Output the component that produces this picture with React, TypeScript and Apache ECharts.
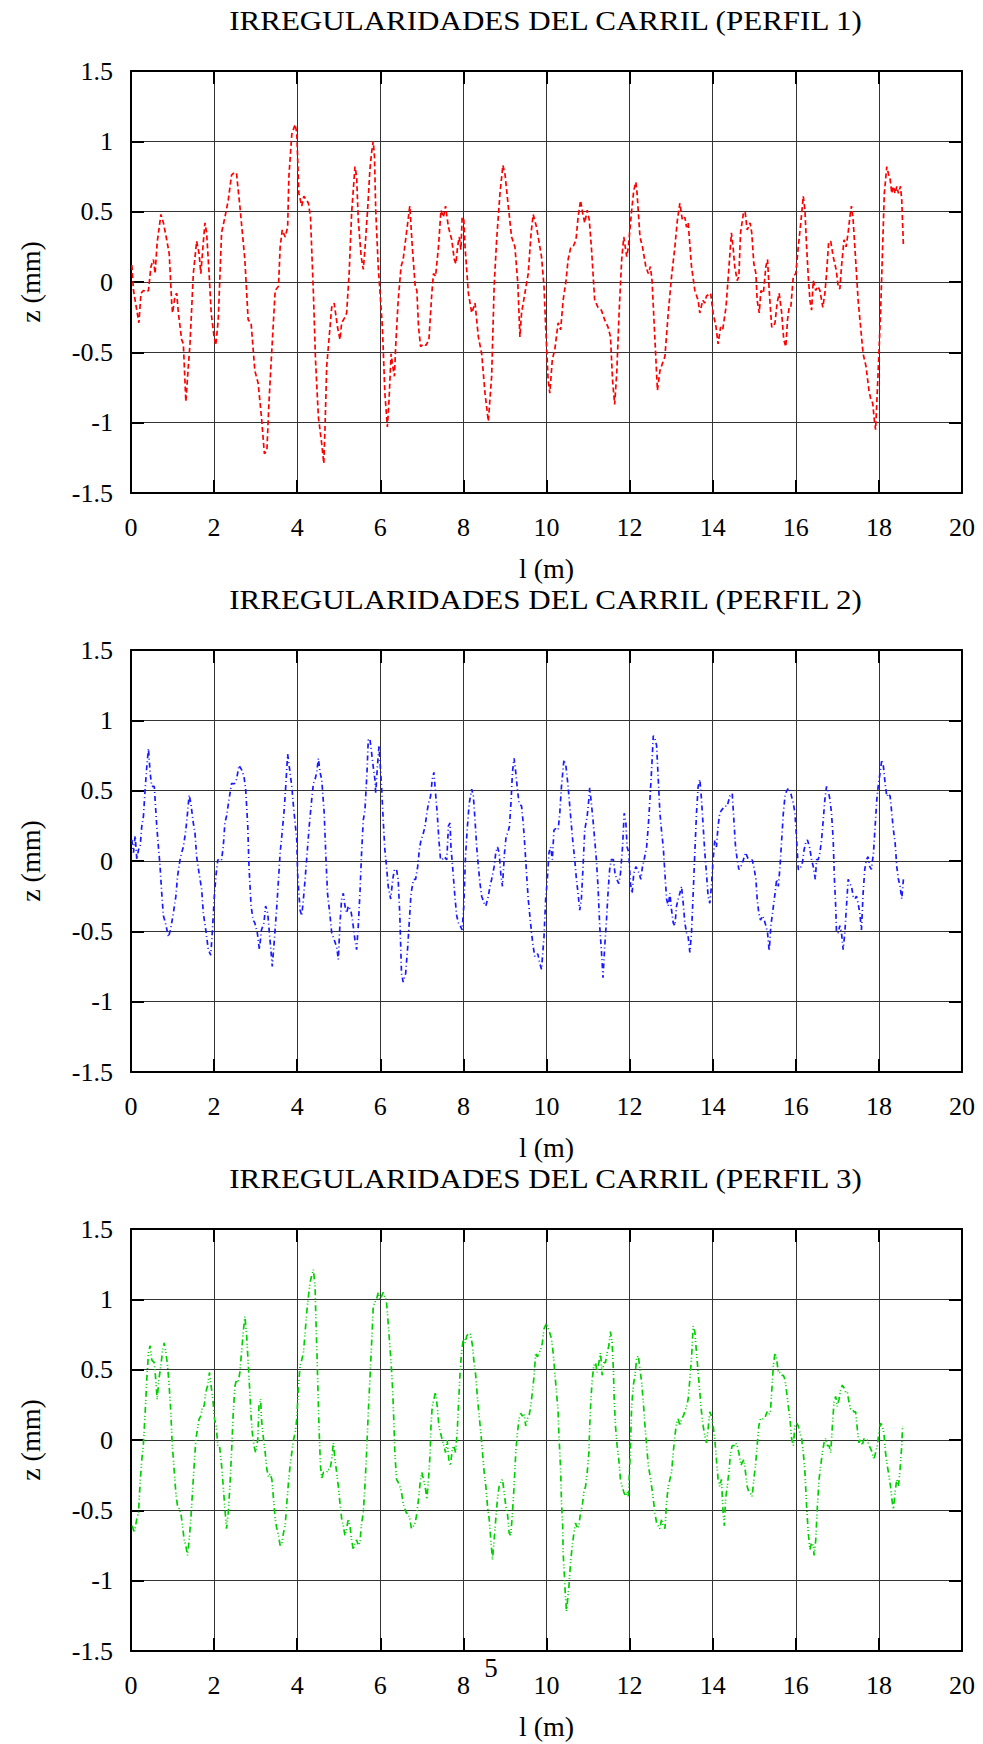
import React, { useEffect, useRef } from "react";
import * as echarts from "echarts";

const titles: string[] = [
  "IRREGULARIDADES DEL CARRIL (PERFIL 1)",
  "IRREGULARIDADES DEL CARRIL (PERFIL 2)",
  "IRREGULARIDADES DEL CARRIL (PERFIL 3)",
];
const xAxisName = "l (m)";
const yAxisName = "z (mm)";
const pageNumber = "5";
const xMin = 0;
const xMax = 20;
const xStep = 2;
const yMin = -1.5;
const yMax = 1.5;
const yStep = 0.5;

const perfil1: [number, number][] = [
  [0.02,0.12],[0.06,-0.06],[0.19,-0.29],[0.24,-0.08],[0.30,-0.06],[0.38,-0.07],[0.42,-0.06],[0.48,0.11],[0.54,0.16],[0.58,0.06],[0.63,0.28],[0.72,0.48],[0.78,0.42],[0.86,0.30],[0.92,0.20],[0.98,-0.15],[1.00,-0.22],[1.06,-0.10],[1.10,-0.08],[1.14,-0.22],[1.22,-0.41],[1.26,-0.44],[1.32,-0.85],[1.38,-0.60],[1.42,-0.44],[1.50,0.06],[1.58,0.29],[1.64,0.20],[1.68,0.06],[1.74,0.28],[1.78,0.42],[1.82,0.35],[1.88,0.06],[1.93,-0.22],[1.97,-0.32],[2.00,-0.39],[2.04,-0.45],[2.10,-0.27],[2.18,0.35],[2.26,0.46],[2.34,0.58],[2.42,0.76],[2.49,0.78],[2.54,0.77],[2.62,0.54],[2.74,0.16],[2.82,-0.27],[2.89,-0.29],[2.98,-0.63],[3.06,-0.72],[3.14,-0.96],[3.21,-1.22],[3.27,-1.20],[3.32,-0.86],[3.39,-0.48],[3.47,-0.06],[3.55,-0.03],[3.59,0.25],[3.64,0.37],[3.71,0.32],[3.77,0.39],[3.80,0.75],[3.87,1.05],[3.95,1.12],[3.99,1.06],[4.04,0.63],[4.11,0.54],[4.16,0.61],[4.23,0.58],[4.27,0.56],[4.32,0.46],[4.39,-0.08],[4.44,-0.55],[4.51,-0.96],[4.59,-1.15],[4.64,-1.29],[4.67,-1.03],[4.71,-0.60],[4.77,-0.39],[4.83,-0.18],[4.89,-0.15],[4.97,-0.32],[5.03,-0.41],[5.07,-0.29],[5.15,-0.25],[5.19,-0.22],[5.25,0.06],[5.31,0.49],[5.39,0.82],[5.43,0.75],[5.47,0.44],[5.54,0.18],[5.59,0.09],[5.63,0.23],[5.70,0.54],[5.75,0.80],[5.79,0.92],[5.83,1.00],[5.86,0.89],[5.89,0.51],[5.95,0.11],[5.99,-0.06],[6.05,-0.32],[6.11,-0.79],[6.17,-1.03],[6.21,-0.84],[6.26,-0.51],[6.30,-0.60],[6.34,-0.67],[6.37,-0.46],[6.43,-0.13],[6.50,0.11],[6.55,0.16],[6.63,0.35],[6.71,0.54],[6.77,0.25],[6.84,-0.03],[6.88,-0.06],[6.92,-0.32],[6.97,-0.46],[7.04,-0.44],[7.10,-0.45],[7.17,-0.41],[7.24,-0.08],[7.28,0.06],[7.33,0.04],[7.40,0.25],[7.46,0.51],[7.52,0.46],[7.57,0.54],[7.64,0.39],[7.72,0.30],[7.78,0.16],[7.82,0.13],[7.86,0.25],[7.90,0.32],[7.94,0.23],[7.97,0.46],[8.01,0.44],[8.04,0.25],[8.12,-0.08],[8.20,-0.22],[8.28,-0.15],[8.36,-0.39],[8.44,-0.51],[8.52,-0.79],[8.60,-0.99],[8.68,-0.67],[8.74,-0.03],[8.80,0.30],[8.88,0.63],[8.95,0.83],[9.00,0.77],[9.08,0.54],[9.16,0.32],[9.24,0.25],[9.31,-0.01],[9.36,-0.39],[9.40,-0.22],[9.48,-0.08],[9.56,0.06],[9.63,0.35],[9.68,0.48],[9.76,0.39],[9.88,0.18],[9.94,-0.03],[9.98,-0.32],[10.04,-0.70],[10.08,-0.79],[10.14,-0.55],[10.20,-0.48],[10.28,-0.29],[10.34,-0.34],[10.40,-0.13],[10.47,0.01],[10.52,0.16],[10.58,0.24],[10.64,0.25],[10.71,0.30],[10.76,0.46],[10.82,0.58],[10.87,0.49],[10.92,0.42],[10.98,0.51],[11.03,0.44],[11.08,0.25],[11.16,-0.13],[11.24,-0.18],[11.32,-0.20],[11.40,-0.27],[11.48,-0.32],[11.54,-0.39],[11.59,-0.70],[11.64,-0.87],[11.69,-0.65],[11.75,-0.20],[11.81,0.16],[11.86,0.32],[11.93,0.18],[11.97,0.25],[12.05,0.51],[12.10,0.65],[12.15,0.71],[12.18,0.63],[12.25,0.32],[12.31,0.25],[12.39,0.11],[12.45,0.06],[12.50,0.11],[12.54,0.01],[12.61,-0.41],[12.67,-0.77],[12.73,-0.63],[12.79,-0.58],[12.85,-0.53],[12.93,-0.22],[13.01,0.04],[13.09,0.25],[13.15,0.44],[13.21,0.56],[13.27,0.44],[13.33,0.46],[13.37,0.39],[13.41,0.42],[13.49,0.11],[13.57,-0.06],[13.65,-0.13],[13.69,-0.22],[13.76,-0.13],[13.81,-0.15],[13.85,-0.10],[13.95,-0.08],[14.01,-0.22],[14.08,-0.32],[14.13,-0.44],[14.19,-0.32],[14.24,-0.34],[14.32,-0.18],[14.38,0.06],[14.45,0.35],[14.49,0.25],[14.53,0.11],[14.59,0.01],[14.63,0.04],[14.67,0.35],[14.74,0.49],[14.78,0.50],[14.83,0.37],[14.90,0.42],[14.94,0.35],[14.99,0.13],[15.04,0.06],[15.07,-0.13],[15.12,-0.22],[15.16,-0.06],[15.22,-0.08],[15.28,0.11],[15.32,0.16],[15.36,-0.06],[15.42,-0.32],[15.46,-0.32],[15.50,-0.29],[15.55,-0.15],[15.60,-0.08],[15.66,-0.22],[15.71,-0.41],[15.76,-0.46],[15.80,-0.27],[15.84,-0.18],[15.88,-0.18],[15.94,0.04],[16.00,0.06],[16.06,0.25],[16.12,0.42],[16.18,0.61],[16.22,0.51],[16.26,0.25],[16.30,0.04],[16.34,-0.13],[16.38,-0.20],[16.42,0.01],[16.48,-0.06],[16.53,-0.03],[16.58,-0.06],[16.65,-0.18],[16.70,-0.08],[16.74,0.06],[16.79,0.28],[16.84,0.29],[16.90,0.18],[16.97,0.09],[17.02,-0.03],[17.06,-0.05],[17.10,0.11],[17.16,0.30],[17.21,0.25],[17.26,0.35],[17.30,0.46],[17.34,0.54],[17.38,0.44],[17.44,0.16],[17.50,-0.13],[17.56,-0.32],[17.62,-0.51],[17.69,-0.60],[17.76,-0.77],[17.81,-0.84],[17.85,-0.86],[17.89,-0.98],[17.92,-1.05],[17.96,-0.79],[18.00,-0.51],[18.04,-0.22],[18.09,0.25],[18.13,0.63],[18.19,0.82],[18.23,0.77],[18.27,0.73],[18.31,0.63],[18.35,0.68],[18.39,0.63],[18.43,0.68],[18.47,0.63],[18.52,0.68],[18.55,0.58],[18.59,0.26],
];

const perfil2: [number, number][] = [
  [0.02,0.15],[0.06,0.06],[0.10,0.18],[0.14,0.01],[0.18,0.08],[0.22,0.10],[0.26,0.25],[0.30,0.32],[0.34,0.51],[0.38,0.67],[0.42,0.80],[0.46,0.63],[0.50,0.53],[0.56,0.53],[0.59,0.39],[0.62,0.25],[0.66,0.10],[0.70,-0.04],[0.74,-0.23],[0.78,-0.39],[0.83,-0.44],[0.90,-0.54],[0.95,-0.49],[1.02,-0.37],[1.08,-0.25],[1.12,-0.11],[1.18,0.01],[1.22,0.06],[1.26,0.10],[1.32,0.22],[1.36,0.34],[1.40,0.47],[1.44,0.41],[1.50,0.27],[1.54,0.20],[1.58,0.03],[1.64,-0.09],[1.70,-0.20],[1.74,-0.37],[1.80,-0.49],[1.86,-0.63],[1.92,-0.67],[1.96,-0.49],[2.01,-0.23],[2.05,-0.09],[2.09,0.01],[2.14,0.00],[2.18,0.01],[2.22,0.10],[2.26,0.27],[2.30,0.32],[2.36,0.44],[2.42,0.55],[2.49,0.55],[2.54,0.58],[2.60,0.68],[2.66,0.65],[2.72,0.60],[2.76,0.51],[2.81,0.25],[2.84,-0.04],[2.89,-0.32],[2.94,-0.42],[2.98,-0.44],[3.04,-0.51],[3.09,-0.63],[3.14,-0.49],[3.20,-0.44],[3.24,-0.32],[3.29,-0.37],[3.33,-0.51],[3.36,-0.61],[3.40,-0.75],[3.45,-0.56],[3.51,-0.32],[3.55,-0.13],[3.59,0.06],[3.63,0.18],[3.68,0.34],[3.72,0.51],[3.77,0.76],[3.81,0.67],[3.87,0.53],[3.91,0.39],[3.95,0.27],[3.99,0.15],[4.01,-0.09],[4.04,-0.23],[4.07,-0.35],[4.11,-0.39],[4.15,-0.27],[4.19,-0.13],[4.24,0.06],[4.29,0.25],[4.35,0.44],[4.39,0.55],[4.43,0.58],[4.47,0.63],[4.51,0.73],[4.55,0.63],[4.59,0.58],[4.65,0.34],[4.69,0.03],[4.73,-0.23],[4.79,-0.39],[4.83,-0.51],[4.89,-0.56],[4.95,-0.61],[4.99,-0.70],[5.03,-0.44],[5.07,-0.27],[5.11,-0.23],[5.15,-0.32],[5.19,-0.37],[5.23,-0.32],[5.29,-0.35],[5.33,-0.42],[5.39,-0.56],[5.43,-0.63],[5.47,-0.46],[5.51,-0.23],[5.55,0.06],[5.59,0.29],[5.63,0.36],[5.68,0.63],[5.71,0.86],[5.75,0.87],[5.79,0.77],[5.83,0.67],[5.87,0.58],[5.89,0.48],[5.93,0.67],[5.97,0.82],[6.03,0.53],[6.07,0.29],[6.11,0.08],[6.15,-0.04],[6.19,-0.18],[6.25,-0.27],[6.30,-0.13],[6.34,-0.06],[6.39,-0.06],[6.43,-0.13],[6.47,-0.39],[6.51,-0.80],[6.55,-0.86],[6.61,-0.80],[6.66,-0.61],[6.70,-0.42],[6.74,-0.23],[6.80,-0.13],[6.85,-0.13],[6.90,-0.04],[6.94,0.08],[6.98,0.15],[7.02,0.18],[7.08,0.25],[7.12,0.34],[7.16,0.41],[7.21,0.46],[7.25,0.58],[7.29,0.63],[7.33,0.48],[7.37,0.34],[7.41,0.15],[7.45,0.01],[7.49,0.01],[7.54,0.03],[7.60,0.01],[7.64,0.25],[7.68,0.27],[7.70,0.10],[7.74,-0.04],[7.80,-0.27],[7.84,-0.39],[7.88,-0.44],[7.92,-0.46],[7.97,-0.49],[8.01,-0.32],[8.05,0.03],[8.09,0.22],[8.14,0.41],[8.20,0.51],[8.24,0.46],[8.28,0.29],[8.32,0.10],[8.36,-0.04],[8.40,-0.16],[8.44,-0.25],[8.50,-0.30],[8.54,-0.32],[8.60,-0.25],[8.64,-0.18],[8.68,-0.13],[8.74,-0.04],[8.78,0.06],[8.82,0.10],[8.86,0.06],[8.90,-0.09],[8.94,-0.18],[8.99,0.06],[9.03,0.18],[9.07,0.20],[9.11,0.25],[9.15,0.44],[9.18,0.63],[9.22,0.73],[9.26,0.63],[9.30,0.51],[9.34,0.41],[9.40,0.39],[9.44,0.27],[9.48,0.10],[9.52,-0.09],[9.56,-0.27],[9.60,-0.39],[9.64,-0.51],[9.68,-0.61],[9.72,-0.68],[9.79,-0.66],[9.84,-0.73],[9.88,-0.77],[9.94,-0.54],[9.98,-0.27],[10.02,-0.13],[10.06,0.06],[10.10,0.10],[10.14,0.01],[10.18,0.22],[10.22,0.23],[10.28,0.22],[10.32,0.34],[10.36,0.53],[10.42,0.72],[10.47,0.67],[10.52,0.53],[10.58,0.32],[10.63,0.15],[10.68,0.01],[10.72,-0.13],[10.76,-0.23],[10.80,-0.35],[10.84,-0.27],[10.88,-0.04],[10.92,0.22],[10.98,0.32],[11.02,0.44],[11.04,0.52],[11.08,0.41],[11.12,0.29],[11.16,0.15],[11.20,0.01],[11.24,-0.18],[11.28,-0.46],[11.32,-0.63],[11.36,-0.83],[11.40,-0.61],[11.44,-0.44],[11.48,-0.23],[11.52,-0.06],[11.56,0.01],[11.61,0.01],[11.65,-0.09],[11.69,-0.13],[11.74,-0.16],[11.78,-0.09],[11.83,0.10],[11.87,0.34],[11.91,0.27],[11.94,0.10],[11.98,0.06],[12.02,-0.16],[12.06,-0.23],[12.10,-0.09],[12.15,-0.04],[12.19,-0.06],[12.23,-0.09],[12.27,-0.13],[12.31,-0.04],[12.35,0.01],[12.41,0.10],[12.45,0.25],[12.49,0.44],[12.53,0.65],[12.57,0.89],[12.61,0.87],[12.65,0.82],[12.69,0.58],[12.73,0.34],[12.77,0.21],[12.81,0.10],[12.85,-0.09],[12.89,-0.27],[12.93,-0.32],[12.97,-0.23],[13.01,-0.35],[13.05,-0.44],[13.09,-0.46],[13.13,-0.32],[13.17,-0.27],[13.21,-0.23],[13.25,-0.18],[13.29,-0.30],[13.33,-0.44],[13.37,-0.51],[13.41,-0.54],[13.45,-0.65],[13.49,-0.51],[13.53,-0.23],[13.57,0.06],[13.61,0.34],[13.65,0.53],[13.69,0.58],[13.73,0.44],[13.77,0.25],[13.81,0.06],[13.85,-0.09],[13.89,-0.25],[13.93,-0.30],[13.97,-0.18],[14.01,0.01],[14.05,0.15],[14.09,0.10],[14.13,0.25],[14.17,0.34],[14.21,0.36],[14.29,0.39],[14.35,0.39],[14.41,0.46],[14.47,0.48],[14.51,0.29],[14.55,0.10],[14.59,0.01],[14.63,-0.06],[14.68,-0.04],[14.74,0.01],[14.79,0.06],[14.86,0.01],[14.91,-0.01],[14.95,0.01],[14.99,-0.04],[15.04,-0.13],[15.07,-0.27],[15.11,-0.37],[15.15,-0.42],[15.20,-0.39],[15.24,-0.42],[15.28,-0.46],[15.32,-0.51],[15.36,-0.64],[15.40,-0.46],[15.44,-0.37],[15.50,-0.23],[15.54,-0.13],[15.58,-0.18],[15.62,-0.04],[15.66,0.15],[15.70,0.34],[15.74,0.46],[15.78,0.50],[15.83,0.52],[15.88,0.48],[15.94,0.41],[15.98,0.34],[16.02,0.15],[16.06,-0.06],[16.10,-0.06],[16.16,-0.01],[16.20,0.08],[16.24,0.13],[16.28,0.15],[16.33,0.10],[16.38,0.01],[16.42,-0.04],[16.47,-0.13],[16.50,0.01],[16.54,0.01],[16.58,0.06],[16.62,0.15],[16.66,0.29],[16.70,0.44],[16.74,0.53],[16.78,0.50],[16.82,0.44],[16.86,0.34],[16.90,0.15],[16.93,-0.13],[16.96,-0.32],[16.98,-0.51],[17.02,-0.51],[17.06,-0.46],[17.10,-0.51],[17.14,-0.63],[17.18,-0.51],[17.22,-0.32],[17.26,-0.13],[17.30,-0.16],[17.34,-0.18],[17.38,-0.25],[17.42,-0.27],[17.46,-0.25],[17.50,-0.30],[17.54,-0.37],[17.58,-0.49],[17.62,-0.23],[17.66,-0.06],[17.70,0.01],[17.74,0.03],[17.78,-0.04],[17.82,-0.06],[17.87,0.06],[17.91,0.25],[17.95,0.44],[17.99,0.55],[18.03,0.63],[18.07,0.72],[18.11,0.67],[18.15,0.55],[18.19,0.46],[18.23,0.48],[18.27,0.46],[18.31,0.34],[18.35,0.22],[18.39,0.13],[18.43,-0.04],[18.47,-0.13],[18.51,-0.18],[18.55,-0.27],[18.59,-0.13],
];

const perfil3: [number, number][] = [
  [0.03,-0.61],[0.08,-0.66],[0.14,-0.56],[0.18,-0.52],[0.22,-0.30],[0.26,-0.14],[0.30,-0.02],[0.34,0.19],[0.38,0.43],[0.42,0.62],[0.46,0.67],[0.50,0.57],[0.56,0.55],[0.59,0.45],[0.63,0.29],[0.67,0.43],[0.72,0.53],[0.76,0.64],[0.80,0.69],[0.84,0.62],[0.88,0.53],[0.92,0.38],[0.96,0.19],[0.99,-0.02],[1.03,-0.18],[1.08,-0.38],[1.12,-0.47],[1.16,-0.49],[1.20,-0.52],[1.24,-0.61],[1.28,-0.71],[1.32,-0.75],[1.36,-0.82],[1.40,-0.71],[1.44,-0.56],[1.48,-0.37],[1.52,-0.18],[1.56,0.00],[1.60,0.08],[1.64,0.15],[1.68,0.17],[1.72,0.24],[1.76,0.24],[1.80,0.34],[1.84,0.38],[1.89,0.48],[1.93,0.38],[1.97,0.29],[2.01,0.15],[2.05,0.10],[2.09,-0.04],[2.13,-0.04],[2.18,-0.18],[2.22,-0.33],[2.26,-0.49],[2.30,-0.63],[2.34,-0.52],[2.38,-0.33],[2.42,-0.09],[2.46,0.19],[2.50,0.38],[2.54,0.43],[2.58,0.41],[2.62,0.48],[2.66,0.62],[2.70,0.76],[2.74,0.88],[2.78,0.76],[2.82,0.55],[2.86,0.34],[2.89,0.17],[2.92,0.05],[2.96,-0.04],[3.00,-0.09],[3.05,0.00],[3.08,0.24],[3.12,0.29],[3.14,0.15],[3.18,0.03],[3.23,-0.09],[3.27,-0.21],[3.31,-0.26],[3.35,-0.24],[3.39,-0.28],[3.43,-0.42],[3.47,-0.56],[3.51,-0.63],[3.55,-0.68],[3.59,-0.75],[3.63,-0.73],[3.67,-0.66],[3.71,-0.61],[3.75,-0.45],[3.79,-0.30],[3.83,-0.18],[3.87,-0.09],[3.91,0.00],[3.95,0.05],[3.99,0.15],[4.03,0.38],[4.07,0.53],[4.11,0.57],[4.15,0.62],[4.19,0.76],[4.23,0.91],[4.27,1.02],[4.31,1.12],[4.35,1.17],[4.39,1.21],[4.43,1.09],[4.45,0.86],[4.48,0.57],[4.51,0.24],[4.53,0.05],[4.56,-0.18],[4.59,-0.28],[4.63,-0.23],[4.67,-0.23],[4.71,-0.23],[4.75,-0.21],[4.79,-0.21],[4.83,-0.14],[4.87,-0.02],[4.91,-0.14],[4.95,-0.23],[4.99,-0.33],[5.03,-0.45],[5.07,-0.56],[5.11,-0.61],[5.15,-0.68],[5.19,-0.63],[5.23,-0.56],[5.27,-0.61],[5.31,-0.71],[5.35,-0.78],[5.39,-0.73],[5.43,-0.71],[5.47,-0.75],[5.51,-0.73],[5.55,-0.59],[5.59,-0.52],[5.63,-0.33],[5.67,-0.09],[5.71,0.19],[5.75,0.43],[5.78,0.62],[5.81,0.81],[5.83,0.95],[5.87,0.98],[5.91,1.00],[5.95,1.05],[5.99,1.00],[6.03,1.02],[6.07,1.05],[6.11,1.02],[6.15,0.98],[6.19,0.83],[6.23,0.67],[6.27,0.50],[6.30,0.34],[6.33,0.10],[6.35,-0.09],[6.39,-0.28],[6.43,-0.30],[6.47,-0.33],[6.51,-0.37],[6.55,-0.45],[6.59,-0.49],[6.63,-0.52],[6.67,-0.52],[6.71,-0.56],[6.75,-0.63],[6.80,-0.61],[6.84,-0.59],[6.88,-0.52],[6.92,-0.42],[6.96,-0.30],[7.00,-0.23],[7.04,-0.28],[7.08,-0.33],[7.12,-0.42],[7.16,-0.28],[7.20,-0.09],[7.22,0.10],[7.25,0.24],[7.29,0.29],[7.33,0.34],[7.37,0.24],[7.41,0.10],[7.45,0.05],[7.49,0.00],[7.53,-0.04],[7.57,-0.09],[7.61,0.00],[7.65,-0.14],[7.69,-0.18],[7.73,-0.07],[7.77,-0.04],[7.81,-0.09],[7.85,0.05],[7.88,0.24],[7.92,0.48],[7.96,0.64],[8.00,0.72],[8.04,0.69],[8.08,0.74],[8.13,0.76],[8.17,0.75],[8.22,0.67],[8.25,0.57],[8.30,0.45],[8.34,0.29],[8.38,0.17],[8.42,0.05],[8.46,-0.09],[8.50,-0.23],[8.54,-0.33],[8.58,-0.47],[8.62,-0.56],[8.66,-0.71],[8.70,-0.85],[8.74,-0.71],[8.78,-0.56],[8.82,-0.42],[8.86,-0.33],[8.90,-0.30],[8.94,-0.28],[8.98,-0.37],[9.02,-0.47],[9.06,-0.52],[9.10,-0.66],[9.14,-0.68],[9.18,-0.52],[9.22,-0.33],[9.26,-0.09],[9.30,0.05],[9.34,0.15],[9.38,0.19],[9.42,0.17],[9.46,0.19],[9.50,0.10],[9.54,0.15],[9.58,0.17],[9.62,0.24],[9.66,0.34],[9.70,0.45],[9.74,0.62],[9.78,0.59],[9.82,0.62],[9.86,0.64],[9.90,0.69],[9.94,0.79],[10.00,0.83],[10.04,0.79],[10.08,0.76],[10.12,0.72],[10.16,0.62],[10.20,0.48],[10.24,0.34],[10.28,0.20],[10.30,0.03],[10.34,-0.21],[10.36,-0.44],[10.39,-0.61],[10.40,-0.80],[10.43,-0.96],[10.45,-1.08],[10.48,-1.22],[10.51,-1.13],[10.54,-1.04],[10.58,-0.87],[10.62,-0.75],[10.66,-0.66],[10.70,-0.59],[10.74,-0.63],[10.78,-0.61],[10.82,-0.51],[10.86,-0.47],[10.90,-0.37],[10.94,-0.33],[10.98,-0.23],[11.02,-0.09],[11.04,0.10],[11.07,0.29],[11.10,0.43],[11.14,0.53],[11.18,0.55],[11.22,0.48],[11.26,0.55],[11.30,0.62],[11.34,0.46],[11.38,0.55],[11.42,0.55],[11.46,0.62],[11.50,0.67],[11.54,0.77],[11.58,0.69],[11.61,0.50],[11.63,0.29],[11.66,0.10],[11.70,-0.04],[11.74,-0.14],[11.78,-0.28],[11.82,-0.33],[11.86,-0.37],[11.90,-0.40],[11.94,-0.37],[11.97,-0.40],[12.01,-0.14],[12.03,0.05],[12.05,0.24],[12.09,0.39],[12.13,0.46],[12.17,0.58],[12.21,0.60],[12.25,0.50],[12.29,0.41],[12.33,0.27],[12.37,0.10],[12.41,-0.04],[12.45,-0.18],[12.49,-0.25],[12.53,-0.33],[12.57,-0.42],[12.61,-0.52],[12.65,-0.59],[12.69,-0.61],[12.73,-0.63],[12.77,-0.56],[12.81,-0.61],[12.85,-0.63],[12.89,-0.44],[12.93,-0.33],[12.97,-0.28],[13.01,-0.23],[13.05,-0.09],[13.09,0.03],[13.13,0.12],[13.17,0.15],[13.21,0.10],[13.25,0.15],[13.29,0.17],[13.33,0.20],[13.37,0.24],[13.41,0.29],[13.45,0.43],[13.49,0.58],[13.53,0.81],[13.57,0.77],[13.61,0.62],[13.65,0.48],[13.69,0.34],[13.73,0.20],[13.77,0.10],[13.81,0.03],[13.85,-0.02],[13.89,0.08],[13.93,0.20],[13.97,0.17],[14.01,0.10],[14.05,0.01],[14.09,-0.14],[14.13,-0.28],[14.17,-0.33],[14.21,-0.28],[14.25,-0.51],[14.28,-0.61],[14.31,-0.42],[14.35,-0.33],[14.39,-0.23],[14.43,-0.09],[14.47,-0.04],[14.51,-0.04],[14.55,-0.02],[14.59,-0.04],[14.63,-0.09],[14.68,-0.18],[14.71,-0.16],[14.75,-0.14],[14.79,-0.23],[14.83,-0.33],[14.87,-0.37],[14.91,-0.38],[14.95,-0.40],[14.99,-0.28],[15.03,-0.18],[15.07,-0.04],[15.11,0.10],[15.15,0.15],[15.19,0.15],[15.23,0.15],[15.27,0.17],[15.31,0.20],[15.35,0.18],[15.39,0.20],[15.43,0.39],[15.46,0.53],[15.50,0.62],[15.54,0.57],[15.58,0.48],[15.62,0.48],[15.66,0.46],[15.70,0.46],[15.74,0.43],[15.78,0.34],[15.82,0.24],[15.86,0.15],[15.90,0.01],[15.94,-0.04],[15.98,0.10],[16.02,0.12],[16.06,0.10],[16.10,0.05],[16.14,0.01],[16.18,-0.09],[16.22,-0.23],[16.26,-0.47],[16.30,-0.66],[16.34,-0.78],[16.38,-0.73],[16.42,-0.75],[16.44,-0.82],[16.48,-0.71],[16.52,-0.47],[16.56,-0.28],[16.60,-0.18],[16.64,-0.09],[16.68,-0.02],[16.72,0.01],[16.76,-0.04],[16.80,-0.04],[16.84,-0.09],[16.88,0.10],[16.92,0.27],[16.96,0.31],[17.00,0.24],[17.04,0.29],[17.08,0.36],[17.12,0.39],[17.16,0.37],[17.20,0.34],[17.24,0.34],[17.28,0.27],[17.32,0.22],[17.36,0.22],[17.40,0.20],[17.44,0.20],[17.48,0.08],[17.52,-0.02],[17.56,0.01],[17.60,-0.04],[17.64,0.01],[17.68,0.00],[17.72,0.00],[17.76,-0.04],[17.80,-0.06],[17.84,-0.09],[17.88,-0.14],[17.92,-0.09],[17.96,-0.04],[18.00,0.05],[18.04,0.12],[18.08,0.10],[18.12,0.05],[18.16,-0.09],[18.20,-0.18],[18.24,-0.25],[18.28,-0.33],[18.32,-0.44],[18.35,-0.49],[18.39,-0.37],[18.43,-0.28],[18.47,-0.33],[18.51,-0.21],[18.55,-0.04],[18.57,0.10],
];

const seriesData = [perfil1, perfil2, perfil3];
const seriesColors = ["#ff0000", "#1a1aff", "#00d000"];
const seriesDash: number[][] = [[5, 3], [5, 3, 1, 3], [6, 3, 1, 2, 1, 3]];

const FONT = '"Liberation Serif", "Times New Roman", serif';

export default function App() {
  const ref = useRef<HTMLDivElement>(null);

  useEffect(() => {
    if (!ref.current) return;
    const chart = echarts.init(ref.current, null, { renderer: "svg" });

    const gridTops = [71, 650, 1229];
    const gridLeft = 131;
    const gridW = 831;
    const gridH = 422;

    const grids: any[] = [];
    const xAxes: any[] = [];
    const yAxes: any[] = [];
    const series: any[] = [];
    const graphics: any[] = [];

    const axisLineStyle = { show: true, onZero: false, lineStyle: { color: "#000", width: 2 } };
    const tickStyle = { show: true, inside: true, length: 13, lineStyle: { color: "#000", width: 2 } };
    const labelStyle = { fontFamily: FONT, fontSize: 26, color: "#000" };

    gridTops.forEach((top, i) => {
      grids.push({ left: gridLeft, top, width: gridW, height: gridH, containLabel: false });
      xAxes.push({
        gridIndex: i, type: "value", position: "bottom", min: xMin, max: xMax, interval: xStep,
        axisLine: axisLineStyle, axisTick: tickStyle,
        axisLabel: { ...labelStyle, margin: 21 },
        splitLine: { show: true, lineStyle: { color: "#333", width: 1 } },
        name: xAxisName, nameLocation: "middle", nameGap: 61,
        nameTextStyle: { fontFamily: FONT, fontSize: 28, color: "#000" },
      });
      xAxes.push({
        gridIndex: i, type: "value", position: "top", min: xMin, max: xMax, interval: xStep,
        axisLine: axisLineStyle, axisTick: tickStyle,
        axisLabel: { show: false }, splitLine: { show: false },
      });
      yAxes.push({
        gridIndex: i, type: "value", position: "left", min: yMin, max: yMax, interval: yStep,
        axisLine: axisLineStyle, axisTick: tickStyle,
        axisLabel: { ...labelStyle, margin: 18 },
        splitLine: { show: true, lineStyle: { color: "#333", width: 1 } },
        name: yAxisName, nameLocation: "middle", nameGap: 87, nameRotate: 90,
        nameTextStyle: { fontFamily: FONT, fontSize: 28, color: "#000" },
      });
      yAxes.push({
        gridIndex: i, type: "value", position: "right", min: yMin, max: yMax, interval: yStep,
        axisLine: axisLineStyle, axisTick: tickStyle,
        axisLabel: { show: false }, splitLine: { show: false },
      });
      series.push({
        type: "line",
        xAxisIndex: 2 * i,
        yAxisIndex: 2 * i,
        data: seriesData[i],
        showSymbol: false,
        symbol: "none",
        smooth: false,
        lineStyle: { color: seriesColors[i], width: 1.7, type: seriesDash[i] },
        z: 3,
      });
      graphics.push({
        type: "text",
        x: gridLeft + gridW / 2 - 1,
        y: top - 50,
        scaleX: 1.15,
        style: {
          text: titles[i],
          font: `27px ${FONT}`,
          fill: "#000",
          align: "center",
          verticalAlign: "middle",
          textAlign: "center",
          textVerticalAlign: "middle",
        },
      });
    });

    graphics.push({
      type: "text",
      x: 491,
      y: 1668,
      style: {
        text: pageNumber,
        font: `27px ${FONT}`,
        fill: "#000",
        align: "center",
        verticalAlign: "middle",
        textAlign: "center",
        textVerticalAlign: "middle",
      },
    });

    chart.setOption({
      animation: false,
      backgroundColor: "#fff",
      grid: grids,
      xAxis: xAxes,
      yAxis: yAxes,
      series,
      graphic: graphics,
    });

    return () => chart.dispose();
  }, []);

  return (
    <div
      ref={ref}
      style={{ position: "absolute", left: 0, top: 0, width: 983, height: 1744 }}
    />
  );
}
